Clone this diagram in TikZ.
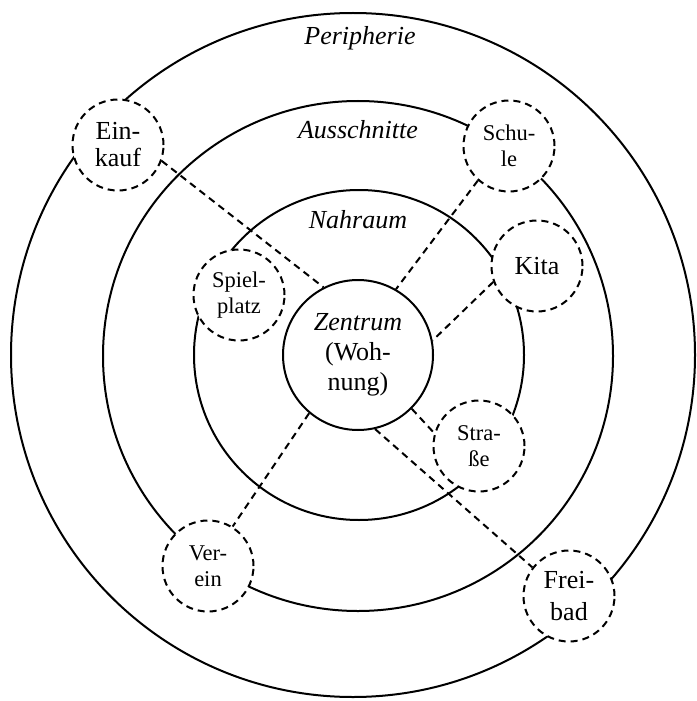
\documentclass[tikz,border=0pt]{standalone}
\usepackage{fontspec}
\setmainfont{Liberation Serif}
\usepackage{tikz}
\usetikzlibrary{shapes}

\begin{document}
\begin{tikzpicture}[x=0.5pt,y=-0.5pt,
  ring/.style={line width=1pt},
  zone/.style={font=\fontsize{13}{15}\selectfont\itshape},
  place/.style={circle,draw,dash pattern=on 3.5pt off 2.5pt,line width=1pt,fill=white,
    minimum size=45.5pt,inner sep=0pt,align=center,font=\fontsize{13}{13.5}\selectfont},
  small/.style={font=\fontsize{11.25}{12.8}\selectfont},
  link/.style={dash pattern=on 3.5pt off 2.5pt,line width=1pt}]
\useasboundingbox (0,0) rectangle (696,701);
\draw [ring] (353,355) circle [radius=342];
\draw [ring] (358,356) circle [radius=255];
\draw [ring] (359,355) circle [radius=165];
\node [zone] (peri) at (360,38) {Peripherie};
\node [zone] (auss) at (358,130) {Ausschnitte};
\node [zone] (nah) at (358,220) {Nahraum};
\node [circle,draw,line width=1pt,minimum size=75pt,inner sep=0pt,align=center,
  font=\fontsize{13}{15}\selectfont] (zen) at (358,355) {\textit{Zentrum}\\(Woh-\\nung)};
\node [place] (ein) at (118,145) {Ein-\\kauf};
\node [place,small] (sch) at (509,146) {Schu-\\le};
\node [place] (kit) at (537,266) {Kita};
\node [place,small] (spi) at (239,295) {Spiel-\\platz};
\node [place,small] (str) at (479,446) {Stra-\\ße};
\node [place,small] (ver) at (208,566) {Ver-\\ein};
\node [place,font=\fontsize{13}{16}\selectfont] (fre) at (569,596) {Frei-\\bad};
\draw [link] (ein.-20) -- (zen.117);
\draw [link] (sch.-132) -- (zen.60);
\draw [link] (kit.200) -- (zen.11);
\draw [link] (zen.-45) -- (str.164);
\draw [link] (zen.-77) -- (fre.142);
\draw [link] (zen.230) -- (ver.58);
\end{tikzpicture}
\end{document}
